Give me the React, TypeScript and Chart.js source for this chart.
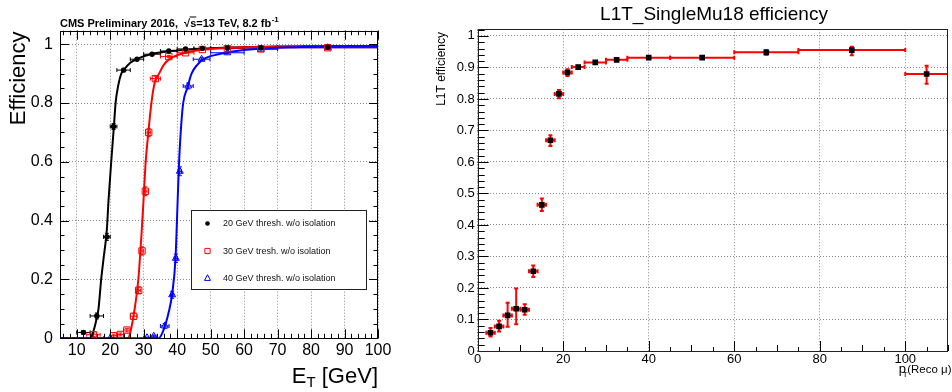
import React, { useEffect, useRef } from "react";
import { Chart, registerables } from "chart.js";

Chart.register(...registerables);

const FONT = "'Liberation Sans', Arial, Helvetica, sans-serif";

// ---------------- Left panel data ----------------
const etTicks = [10, 20, 30, 40, 50, 60, 70, 80, 90, 100];
const effTicksLeft = [0, 0.2, 0.4, 0.6, 0.8, 1];

const thr20Label = "20 GeV thresh. w/o isolation";
const thr20X = [12, 16, 19, 21, 24, 28, 32.5, 37.5, 42.5, 47.5, 55, 65, 85];
const thr20XErr = [2, 2, 1, 1, 2, 2, 2.5, 2.5, 2.5, 2.5, 5, 5, 15];
const thr20Y = [0.02, 0.076, 0.345, 0.72, 0.912, 0.949, 0.966, 0.977, 0.984, 0.986, 0.987, 0.988, 0.99];
const thr20YErr = [0.006, 0.01, 0.012, 0.01, 0.006, 0.004, 0.003, 0.003, 0.002, 0.002, 0.002, 0.002, 0.002];

const thr30Label = "30 GeV tresh. w/o isolation";
const thr30X = [15, 21, 23, 25, 27, 28.5, 29.5, 30.5, 31.5, 33.5, 37.5, 42.5, 47.5, 55, 65, 85];
const thr30XErr = [2, 1, 1, 1, 1, 0.5, 0.5, 0.5, 0.5, 1.5, 2.5, 2.5, 2.5, 5, 5, 15];
const thr30Y = [0.012, 0.009, 0.013, 0.028, 0.075, 0.163, 0.297, 0.5, 0.7, 0.883, 0.958, 0.971, 0.982, 0.985, 0.984, 0.988];
const thr30YErr = [0.006, 0.005, 0.005, 0.006, 0.01, 0.012, 0.014, 0.015, 0.014, 0.008, 0.004, 0.003, 0.002, 0.002, 0.002, 0.002];

const thr40Label = "40 GeV thresh. w/o isolation";
const thr40X = [20, 31, 33, 36.3, 38.5, 39.6, 40.8, 43.3, 47.3, 55, 65, 85];
const thr40XErr = [2, 1, 1, 1.3, 0.5, 0.5, 0.5, 1.5, 2.5, 5, 5, 15];
const thr40Y = [0, 0.002, 0.007, 0.042, 0.148, 0.272, 0.568, 0.858, 0.949, 0.971, 0.983, 0.988];
const thr40YErr = [0.002, 0.002, 0.004, 0.008, 0.012, 0.014, 0.015, 0.01, 0.005, 0.003, 0.002, 0.002];

// fitted turn-on curves
const fit20X = [5, 14, 15, 16, 16.5, 17.3, 18, 19, 19.5, 20.3, 21.1, 21.6, 22.4, 23.3, 24, 26, 28, 32, 40, 50, 70, 100];
const fit20Y = [0, 0, 0.025, 0.07, 0.1, 0.2, 0.27, 0.37, 0.47, 0.6, 0.72, 0.8, 0.86, 0.9, 0.912, 0.937, 0.95, 0.966, 0.979, 0.986, 0.992, 0.994];
const fit30X = [5, 25.3, 26, 27.3, 28.4, 29.6, 30.1, 30.6, 31.4, 32.3, 33.3, 34.6, 36, 37.8, 42, 50, 60, 100];
const fit30Y = [0, 0, 0.02, 0.1, 0.2, 0.4, 0.5, 0.6, 0.7, 0.8, 0.87, 0.9, 0.93, 0.95, 0.97, 0.984, 0.99, 0.994];
const fit40X = [5, 34.5, 36, 37.5, 38.5, 39.5, 40, 40.5, 41, 41.8, 43, 44.3, 46, 48, 52, 60, 75, 100];
const fit40Y = [0, 0, 0.03, 0.09, 0.15, 0.27, 0.42, 0.58, 0.69, 0.8, 0.85, 0.9, 0.93, 0.95, 0.965, 0.98, 0.99, 0.994];

// ---------------- Right panel data ----------------
const ptTicks = [0, 20, 40, 60, 80, 100];
const effTicksRight = [0, 0.1, 0.2, 0.3, 0.4, 0.5, 0.6, 0.7, 0.8, 0.9, 1];
const ptCenter = [3, 5, 7, 9, 11, 13, 15, 17, 19, 21, 23.5, 27.5, 32.5, 40, 52.5, 67.5, 87.5, 105];
const ptBinLow = [2, 4, 6, 8, 10, 12, 14, 16, 18, 20, 22, 25, 30, 35, 45, 60, 75, 100];
const ptBinHigh = [4, 6, 8, 10, 12, 14, 16, 18, 20, 22, 25, 30, 35, 45, 60, 75, 100, 110];
const muEff = [0.058, 0.078, 0.113, 0.134, 0.131, 0.253, 0.464, 0.669, 0.816, 0.884, 0.901, 0.916, 0.924, 0.931, 0.931, 0.948, 0.955, 0.879];
const muEffErrLow = [0.012, 0.016, 0.036, 0.049, 0.016, 0.018, 0.02, 0.018, 0.014, 0.011, 0.004, 0.004, 0.004, 0.003, 0.003, 0.008, 0.016, 0.031];
const muEffErrHigh = [0.015, 0.018, 0.04, 0.064, 0.017, 0.018, 0.02, 0.016, 0.012, 0.01, 0.004, 0.004, 0.004, 0.003, 0.003, 0.007, 0.011, 0.026];

const fmt = (v: number) => String(+Number(v).toFixed(2));

function pts(xs: number[], ys: number[]) {
  return xs.map((x, i) => ({ x, y: ys[i] }));
}

// ---------------- plugins ----------------
const errorBarPlugin = {
  id: "errorBars",
  beforeDatasetsDraw(chart: any) {
    const { ctx, chartArea: a } = chart;
    const xs = chart.scales.x;
    const ys = chart.scales.y;
    ctx.save();
    ctx.beginPath();
    ctx.rect(a.left, a.top - 2, a.right - a.left, a.bottom - a.top + 2);
    ctx.clip();
    chart.data.datasets.forEach((ds: any) => {
      const e = ds.err;
      if (!e) return;
      ctx.strokeStyle = e.color;
      ctx.lineWidth = e.width;
      const c = e.cap;
      ds.data.forEach((p: any, j: number) => {
        const px = xs.getPixelForValue(p.x);
        const py = ys.getPixelForValue(p.y);
        const x0 = xs.getPixelForValue(e.xLo[j]);
        const x1 = xs.getPixelForValue(e.xHi[j]);
        const y0 = ys.getPixelForValue(e.yLo[j]);
        const y1 = ys.getPixelForValue(e.yHi[j]);
        ctx.beginPath();
        ctx.moveTo(x0, py);
        ctx.lineTo(x1, py);
        ctx.moveTo(px, y0);
        ctx.lineTo(px, y1);
        if (x1 - x0 > 1) {
          ctx.moveTo(x0, py - c);
          ctx.lineTo(x0, py + c);
          ctx.moveTo(x1, py - c);
          ctx.lineTo(x1, py + c);
        }
        if (y0 - y1 > 1) {
          ctx.moveTo(px - c, y0);
          ctx.lineTo(px + c, y0);
          ctx.moveTo(px - c, y1);
          ctx.lineTo(px + c, y1);
        }
        ctx.stroke();
      });
    });
    ctx.restore();
  },
};

function tickValues(spec: any, min: number, max: number) {
  if (spec.values) return spec.values;
  const out: number[] = [];
  const n = Math.round((spec.to - spec.from) / spec.step);
  for (let k = 0; k <= n; k++) {
    const v = spec.from + k * spec.step;
    if (v >= min - 1e-9 && v <= max + 1e-9) out.push(v);
  }
  return out;
}

function drawRootTicks(chart: any, axis: string, sides: string[], specs: any[]) {
  const { ctx, chartArea: a } = chart;
  const s = chart.scales[axis];
  ctx.beginPath();
  specs.forEach((spec) => {
    tickValues(spec, s.min, s.max).forEach((v: number) => {
      const p = Math.round(s.getPixelForValue(v)) + 0.5;
      sides.forEach((side) => {
        if (side === "bottom") { ctx.moveTo(p, a.bottom); ctx.lineTo(p, a.bottom - spec.len); }
        if (side === "top") { ctx.moveTo(p, a.top); ctx.lineTo(p, a.top + spec.len); }
        if (side === "left") { ctx.moveTo(a.left, p); ctx.lineTo(a.left + spec.len, p); }
        if (side === "right") { ctx.moveTo(a.right, p); ctx.lineTo(a.right - spec.len, p); }
      });
    });
  });
  ctx.stroke();
}

function drawFrame(chart: any, color: string) {
  const { ctx, chartArea: a } = chart;
  ctx.strokeStyle = color;
  ctx.lineWidth = 1;
  const l = Math.round(a.left) + 0.5, t = Math.round(a.top) + 0.5;
  const r = Math.round(a.right) - 0.5, b = Math.round(a.bottom) + 0.5;
  ctx.strokeRect(l, t, r - l, b - t);
}

function marker(ctx: any, style: string, x: number, y: number, r: number, color: string) {
  ctx.save();
  ctx.strokeStyle = color;
  ctx.fillStyle = color;
  ctx.lineWidth = 1;
  ctx.beginPath();
  if (style === "circle") {
    ctx.arc(x, y, r, 0, Math.PI * 2);
    ctx.fill();
  } else if (style === "rect") {
    ctx.rect(x - r, y - r, 2 * r, 2 * r);
    ctx.stroke();
  } else {
    ctx.moveTo(x, y - r * 1.1);
    ctx.lineTo(x + r, y + r * 0.8);
    ctx.lineTo(x - r, y + r * 0.8);
    ctx.closePath();
    ctx.stroke();
  }
  ctx.restore();
}

const leftDecor = {
  id: "leftDecor",
  afterDraw(chart: any) {
    const { ctx } = chart;
    ctx.save();
    ctx.strokeStyle = "#000";
    ctx.lineWidth = 1;
    drawRootTicks(chart, "x", ["bottom", "top"], [
      { from: 6, to: 100, step: 2, len: 4.5 },
      { values: etTicks, len: 9 },
    ]);
    drawRootTicks(chart, "y", ["left", "right"], [
      { from: 0, to: 1.05, step: 0.05, len: 4.5 },
      { values: effTicksLeft, len: 9 },
    ]);
    drawFrame(chart, "#000");

    // header
    ctx.fillStyle = "#000";
    ctx.textBaseline = "alphabetic";
    ctx.textAlign = "left";
    ctx.font = `bold 11px ${FONT}`;
    let xx = 60;
    const by = 26.5;
    const seg1 = "CMS Preliminary 2016,  ";
    ctx.fillText(seg1, xx, by);
    xx += ctx.measureText(seg1).width;
    ctx.fillText("\u221A", xx, by);
    xx += ctx.measureText("\u221A").width;
    const ws = ctx.measureText("s").width;
    ctx.fillText("s", xx, by);
    ctx.fillRect(xx - 0.5, by - 10, ws + 0.5, 1);
    xx += ws;
    const seg2 = "=13 TeV, 8.2 fb";
    ctx.fillText(seg2, xx, by);
    xx += ctx.measureText(seg2).width;
    ctx.font = `bold 8px ${FONT}`;
    ctx.fillText("-1", xx + 0.5, by - 5);

    // y title
    ctx.save();
    ctx.translate(24.5, 31.5);
    ctx.rotate(-Math.PI / 2);
    ctx.font = `22px ${FONT}`;
    ctx.textAlign = "right";
    ctx.fillText("Efficiency", 0, 0);
    ctx.restore();

    // x title E_T [GeV]
    const bx = 383;
    ctx.font = `22px ${FONT}`;
    const wG = ctx.measureText(" [GeV]").width;
    const wE = ctx.measureText("E").width;
    ctx.font = `15px ${FONT}`;
    const wT = ctx.measureText("T").width;
    let sx = 378 - wG - wT - wE;
    ctx.font = `22px ${FONT}`;
    ctx.fillText("E", sx, bx);
    sx += wE;
    ctx.font = `15px ${FONT}`;
    ctx.fillText("T", sx, bx + 4);
    sx += wT;
    ctx.font = `22px ${FONT}`;
    ctx.fillText(" [GeV]", sx, bx);

    // legend
    const L = 191, T = 210, R = 367, B = 290;
    ctx.fillStyle = "#fff";
    ctx.fillRect(L, T, R - L, B - T);
    ctx.strokeStyle = "#222";
    ctx.strokeRect(L + 0.5, T + 0.5, R - L - 1, B - T - 1);
    const entries = [
      { label: thr20Label, style: "circle", color: "#000", r: 2.3 },
      { label: thr30Label, style: "rect", color: "#ff0000", r: 2.6 },
      { label: thr40Label, style: "triangle", color: "#0000ff", r: 3 },
    ];
    const rows = [223.5, 251, 278];
    ctx.font = `9px ${FONT}`;
    ctx.textBaseline = "middle";
    entries.forEach((e, i) => {
      marker(ctx, e.style, 207.5, rows[i], e.r, e.color);
      ctx.fillStyle = "#111";
      ctx.fillText(e.label, 223, rows[i] + 0.5);
    });
    ctx.restore();
  },
};

const rightDecor = {
  id: "rightDecor",
  afterDraw(chart: any) {
    const { ctx } = chart;
    ctx.save();
    ctx.strokeStyle = "#000";
    ctx.lineWidth = 1;
    drawRootTicks(chart, "x", ["bottom"], [
      { from: 0, to: 110, step: 5, len: 4 },
      { from: 0, to: 110, step: 10, len: 6 },
      { values: ptTicks, len: 10 },
    ]);
    drawRootTicks(chart, "y", ["left"], [
      { from: 0, to: 1.02, step: 0.02, len: 7 },
      { values: effTicksRight, len: 11 },
    ]);
    drawFrame(chart, "#222");

    ctx.fillStyle = "#000";
    ctx.textBaseline = "alphabetic";
    // title
    ctx.font = `19px ${FONT}`;
    ctx.textAlign = "center";
    ctx.fillText("L1T_SingleMu18 efficiency", 314, 19.5);

    // y title
    ctx.save();
    ctx.translate(45, 32);
    ctx.rotate(-Math.PI / 2);
    ctx.font = `12px ${FONT}`;
    ctx.textAlign = "right";
    ctx.fillText("L1T efficiency", 0, 0);
    ctx.restore();

    // x title p_T(Reco μ)
    const by = 373;
    ctx.font = `11.5px ${FONT}`;
    ctx.textAlign = "right";
    ctx.fillText("(Reco \u03BC)", 551.5, by);
    const start = 551.5 - ctx.measureText("(Reco \u03BC)").width;
    ctx.textAlign = "left";
    ctx.font = `13px ${FONT}`;
    ctx.fillText("p", start - 8.5, by);
    ctx.font = `8px ${FONT}`;
    ctx.fillText("T", start - 4.5, by + 4);
    ctx.restore();
  },
};

function gridScale(extra: any) {
  return {
    type: "linear",
    grid: { color: "#888", lineWidth: 1, drawTicks: false },
    border: { display: false, dash: [1, 2] },
    ...extra,
  };
}

function leftConfig(): any {
  const mk = (xs: number[], ys: number[], xe: number[], ye: number[], color: string) => ({
    color,
    width: 1,
    cap: 2,
    xLo: xs.map((v, i) => v - xe[i]),
    xHi: xs.map((v, i) => v + xe[i]),
    yLo: ys.map((v, i) => v - ye[i]),
    yHi: ys.map((v, i) => v + ye[i]),
  });
  const fitDs = (xs: number[], ys: number[], color: string) => ({
    data: pts(xs, ys),
    showLine: true,
    borderColor: color,
    borderWidth: 2,
    pointRadius: 0,
    cubicInterpolationMode: "monotone",
    fill: false,
  });
  return {
    type: "scatter",
    data: {
      datasets: [
        {
          label: thr20Label,
          data: pts(thr20X, thr20Y),
          pointStyle: "circle",
          pointRadius: 2.7,
          pointBackgroundColor: "#000",
          pointBorderColor: "#000",
          pointBorderWidth: 0,
          err: mk(thr20X, thr20Y, thr20XErr, thr20YErr, "#000"),
        },
        {
          label: thr30Label,
          data: pts(thr30X, thr30Y),
          pointStyle: "rect",
          pointRadius: 4.5,
          pointBackgroundColor: "rgba(0,0,0,0)",
          pointBorderColor: "#ff0000",
          pointBorderWidth: 1,
          err: mk(thr30X, thr30Y, thr30XErr, thr30YErr, "#ff0000"),
        },
        {
          label: thr40Label,
          data: pts(thr40X, thr40Y),
          pointStyle: "triangle",
          pointRadius: 4,
          pointBackgroundColor: "rgba(0,0,0,0)",
          pointBorderColor: "#0000ff",
          pointBorderWidth: 1,
          err: mk(thr40X, thr40Y, thr40XErr, thr40YErr, "#0000ff"),
        },
        fitDs(fit40X, fit40Y, "#0000ff"),
        fitDs(fit30X, fit30Y, "#ff0000"),
        fitDs(fit20X, fit20Y, "#000"),
      ],
    },
    options: {
      responsive: false,
      animation: false,
      devicePixelRatio: 1,
      layout: { padding: { left: 0, top: 30.7, right: 22, bottom: 0 } },
      plugins: { legend: { display: false }, tooltip: { enabled: false }, title: { display: false } },
      scales: {
        x: gridScale({
          min: 5,
          max: 100,
          afterBuildTicks: (s: any) => { s.ticks = etTicks.map((v) => ({ value: v })); },
          afterFit: (s: any) => { s.height = 53.7; },
          ticks: { font: { size: 16, family: FONT }, color: "#000", padding: 3, maxRotation: 0, autoSkip: false, callback: (v: any) => fmt(v) },
        }),
        y: gridScale({
          min: 0,
          max: 1.046,
          afterBuildTicks: (s: any) => { s.ticks = effTicksLeft.map((v) => ({ value: v })); },
          afterFit: (s: any) => { s.width = 60; },
          ticks: { font: { size: 16, family: FONT }, color: "#000", padding: 7, autoSkip: false, callback: (v: any) => fmt(v) },
        }),
      },
    },
    plugins: [errorBarPlugin, leftDecor],
  };
}

function rightConfig(): any {
  return {
    type: "scatter",
    data: {
      datasets: [
        {
          label: "L1T_SingleMu18 efficiency",
          data: pts(ptCenter, muEff),
          pointStyle: "rect",
          pointRadius: 4,
          pointBackgroundColor: "#000",
          pointBorderColor: "#000",
          pointBorderWidth: 0,
          err: {
            color: "#ff0000",
            width: 2,
            cap: 2,
            xLo: ptBinLow,
            xHi: ptBinHigh,
            yLo: muEff.map((v, i) => v - muEffErrLow[i]),
            yHi: muEff.map((v, i) => v + muEffErrHigh[i]),
          },
        },
      ],
    },
    options: {
      responsive: false,
      animation: false,
      devicePixelRatio: 1,
      layout: { padding: { left: 0, top: 29.3, right: 0.5, bottom: 0 } },
      plugins: { legend: { display: false }, tooltip: { enabled: false }, title: { display: false } },
      scales: {
        x: gridScale({
          min: 0,
          max: 110,
          afterBuildTicks: (s: any) => { s.ticks = ptTicks.map((v) => ({ value: v })); },
          afterFit: (s: any) => { s.height = 41; },
          ticks: { font: { size: 13, family: FONT }, color: "#000", padding: 1, maxRotation: 0, autoSkip: false, callback: (v: any) => fmt(v) },
        }),
        y: gridScale({
          min: 0,
          max: 1.021,
          afterBuildTicks: (s: any) => { s.ticks = effTicksRight.map((v) => ({ value: v })); },
          afterFit: (s: any) => { s.width = 77.7; },
          ticks: { font: { size: 13, family: FONT }, color: "#000", padding: 3, autoSkip: false, callback: (v: any) => fmt(v) },
        }),
      },
    },
    plugins: [errorBarPlugin, rightDecor],
  };
}

export default function App() {
  const leftRef = useRef<HTMLCanvasElement>(null);
  const rightRef = useRef<HTMLCanvasElement>(null);
  useEffect(() => {
    Chart.defaults.font.family = FONT;
    Chart.defaults.color = "#000";
    const c1 = new Chart(leftRef.current as HTMLCanvasElement, leftConfig());
    const c2 = new Chart(rightRef.current as HTMLCanvasElement, rightConfig());
    return () => {
      c1.destroy();
      c2.destroy();
    };
  }, []);
  return (
    <div style={{ position: "absolute", left: 0, top: 0, width: 952, height: 392, background: "#fff", overflow: "hidden" }}>
      <canvas ref={leftRef} width={400} height={392} style={{ position: "absolute", left: 0, top: 0, width: 400, height: 392 }} />
      <canvas ref={rightRef} width={552} height={392} style={{ position: "absolute", left: 400, top: 0, width: 552, height: 392 }} />
    </div>
  );
}
